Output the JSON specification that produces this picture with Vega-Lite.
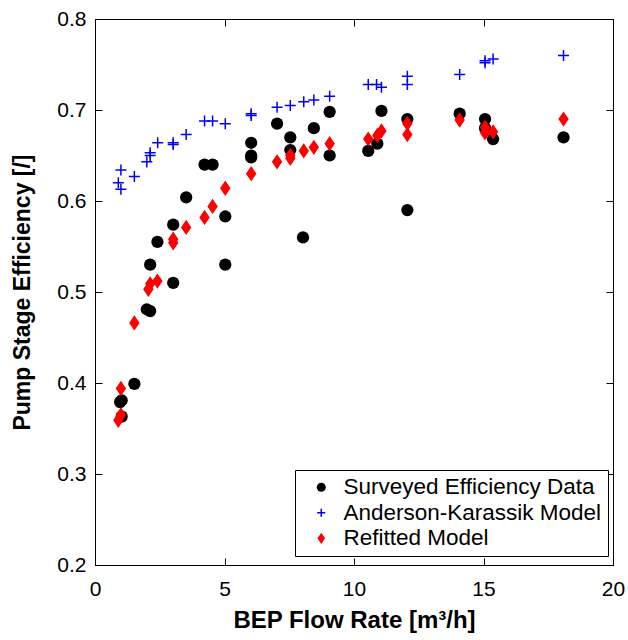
{
  "$schema": "https://vega.github.io/schema/vega-lite/v6.json",
  "autosize": "none",
  "width": 518,
  "height": 546,
  "padding": {"left": 95, "top": 19, "right": 15, "bottom": 75},
  "background": "white",
  "config": {
    "font": "Liberation Sans",
    "view": {"stroke": "black", "strokeWidth": 1},
    "axis": {"grid": false, "domainColor": "black", "domainWidth": 1, "tickColor": "black", "tickWidth": 1, "labelColor": "black", "titleColor": "black", "labelFont": "Liberation Sans", "titleFont": "Liberation Sans", "labelFlush": false}
  },
  "data": {"values": [
    {"series": "Surveyed Efficiency Data", "q": 0.97, "eff": 0.379},
    {"series": "Surveyed Efficiency Data", "q": 1.03, "eff": 0.381},
    {"series": "Surveyed Efficiency Data", "q": 1.03, "eff": 0.363},
    {"series": "Surveyed Efficiency Data", "q": 1.52, "eff": 0.399},
    {"series": "Surveyed Efficiency Data", "q": 2.0, "eff": 0.481},
    {"series": "Surveyed Efficiency Data", "q": 2.13, "eff": 0.479},
    {"series": "Surveyed Efficiency Data", "q": 2.13, "eff": 0.530},
    {"series": "Surveyed Efficiency Data", "q": 2.41, "eff": 0.555},
    {"series": "Surveyed Efficiency Data", "q": 3.02, "eff": 0.574},
    {"series": "Surveyed Efficiency Data", "q": 3.02, "eff": 0.510},
    {"series": "Surveyed Efficiency Data", "q": 3.52, "eff": 0.604},
    {"series": "Surveyed Efficiency Data", "q": 4.23, "eff": 0.640},
    {"series": "Surveyed Efficiency Data", "q": 4.54, "eff": 0.640},
    {"series": "Surveyed Efficiency Data", "q": 5.03, "eff": 0.583},
    {"series": "Surveyed Efficiency Data", "q": 5.03, "eff": 0.530},
    {"series": "Surveyed Efficiency Data", "q": 6.03, "eff": 0.664},
    {"series": "Surveyed Efficiency Data", "q": 6.03, "eff": 0.650},
    {"series": "Surveyed Efficiency Data", "q": 6.03, "eff": 0.648},
    {"series": "Surveyed Efficiency Data", "q": 7.03, "eff": 0.685},
    {"series": "Surveyed Efficiency Data", "q": 7.54, "eff": 0.670},
    {"series": "Surveyed Efficiency Data", "q": 7.54, "eff": 0.656},
    {"series": "Surveyed Efficiency Data", "q": 8.03, "eff": 0.560},
    {"series": "Surveyed Efficiency Data", "q": 8.45, "eff": 0.680},
    {"series": "Surveyed Efficiency Data", "q": 9.06, "eff": 0.698},
    {"series": "Surveyed Efficiency Data", "q": 9.06, "eff": 0.650},
    {"series": "Surveyed Efficiency Data", "q": 10.55, "eff": 0.655},
    {"series": "Surveyed Efficiency Data", "q": 10.9, "eff": 0.663},
    {"series": "Surveyed Efficiency Data", "q": 11.06, "eff": 0.699},
    {"series": "Surveyed Efficiency Data", "q": 12.06, "eff": 0.690},
    {"series": "Surveyed Efficiency Data", "q": 12.06, "eff": 0.590},
    {"series": "Surveyed Efficiency Data", "q": 14.08, "eff": 0.696},
    {"series": "Surveyed Efficiency Data", "q": 15.06, "eff": 0.690},
    {"series": "Surveyed Efficiency Data", "q": 15.06, "eff": 0.680},
    {"series": "Surveyed Efficiency Data", "q": 15.37, "eff": 0.668},
    {"series": "Surveyed Efficiency Data", "q": 18.09, "eff": 0.670},
    {"series": "Anderson-Karassik Model", "q": 0.9, "eff": 0.620},
    {"series": "Anderson-Karassik Model", "q": 1.0, "eff": 0.634},
    {"series": "Anderson-Karassik Model", "q": 1.0, "eff": 0.613},
    {"series": "Anderson-Karassik Model", "q": 1.52, "eff": 0.627},
    {"series": "Anderson-Karassik Model", "q": 2.0, "eff": 0.643},
    {"series": "Anderson-Karassik Model", "q": 2.13, "eff": 0.650},
    {"series": "Anderson-Karassik Model", "q": 2.13, "eff": 0.653},
    {"series": "Anderson-Karassik Model", "q": 2.42, "eff": 0.664},
    {"series": "Anderson-Karassik Model", "q": 3.02, "eff": 0.664},
    {"series": "Anderson-Karassik Model", "q": 3.02, "eff": 0.662},
    {"series": "Anderson-Karassik Model", "q": 3.52, "eff": 0.673},
    {"series": "Anderson-Karassik Model", "q": 4.23, "eff": 0.688},
    {"series": "Anderson-Karassik Model", "q": 4.54, "eff": 0.688},
    {"series": "Anderson-Karassik Model", "q": 5.03, "eff": 0.685},
    {"series": "Anderson-Karassik Model", "q": 6.03, "eff": 0.696},
    {"series": "Anderson-Karassik Model", "q": 6.03, "eff": 0.694},
    {"series": "Anderson-Karassik Model", "q": 7.03, "eff": 0.703},
    {"series": "Anderson-Karassik Model", "q": 7.54, "eff": 0.705},
    {"series": "Anderson-Karassik Model", "q": 8.06, "eff": 0.709},
    {"series": "Anderson-Karassik Model", "q": 8.45, "eff": 0.711},
    {"series": "Anderson-Karassik Model", "q": 9.06, "eff": 0.715},
    {"series": "Anderson-Karassik Model", "q": 10.55, "eff": 0.728},
    {"series": "Anderson-Karassik Model", "q": 10.87, "eff": 0.728},
    {"series": "Anderson-Karassik Model", "q": 11.06, "eff": 0.725},
    {"series": "Anderson-Karassik Model", "q": 12.06, "eff": 0.737},
    {"series": "Anderson-Karassik Model", "q": 12.06, "eff": 0.728},
    {"series": "Anderson-Karassik Model", "q": 14.08, "eff": 0.739},
    {"series": "Anderson-Karassik Model", "q": 15.06, "eff": 0.754},
    {"series": "Anderson-Karassik Model", "q": 15.06, "eff": 0.752},
    {"series": "Anderson-Karassik Model", "q": 15.37, "eff": 0.756},
    {"series": "Anderson-Karassik Model", "q": 18.09, "eff": 0.760},
    {"series": "Refitted Model", "q": 0.9, "eff": 0.359},
    {"series": "Refitted Model", "q": 1.0, "eff": 0.365},
    {"series": "Refitted Model", "q": 1.0, "eff": 0.394},
    {"series": "Refitted Model", "q": 1.52, "eff": 0.466},
    {"series": "Refitted Model", "q": 2.06, "eff": 0.503},
    {"series": "Refitted Model", "q": 2.13, "eff": 0.509},
    {"series": "Refitted Model", "q": 2.41, "eff": 0.512},
    {"series": "Refitted Model", "q": 3.02, "eff": 0.558},
    {"series": "Refitted Model", "q": 3.02, "eff": 0.554},
    {"series": "Refitted Model", "q": 3.52, "eff": 0.571},
    {"series": "Refitted Model", "q": 4.23, "eff": 0.582},
    {"series": "Refitted Model", "q": 4.54, "eff": 0.594},
    {"series": "Refitted Model", "q": 5.03, "eff": 0.614},
    {"series": "Refitted Model", "q": 6.03, "eff": 0.630},
    {"series": "Refitted Model", "q": 7.03, "eff": 0.643},
    {"series": "Refitted Model", "q": 7.54, "eff": 0.650},
    {"series": "Refitted Model", "q": 7.54, "eff": 0.647},
    {"series": "Refitted Model", "q": 8.06, "eff": 0.655},
    {"series": "Refitted Model", "q": 8.45, "eff": 0.659},
    {"series": "Refitted Model", "q": 9.06, "eff": 0.663},
    {"series": "Refitted Model", "q": 10.55, "eff": 0.668},
    {"series": "Refitted Model", "q": 10.9, "eff": 0.672},
    {"series": "Refitted Model", "q": 11.06, "eff": 0.677},
    {"series": "Refitted Model", "q": 12.06, "eff": 0.685},
    {"series": "Refitted Model", "q": 12.06, "eff": 0.673},
    {"series": "Refitted Model", "q": 14.08, "eff": 0.689},
    {"series": "Refitted Model", "q": 15.06, "eff": 0.681},
    {"series": "Refitted Model", "q": 15.06, "eff": 0.675},
    {"series": "Refitted Model", "q": 15.37, "eff": 0.676},
    {"series": "Refitted Model", "q": 18.09, "eff": 0.690}
  ]},
  "layer": [
    {
      "mark": {"type": "point", "size": 150, "strokeWidth": 1.5, "opacity": 1},
      "encoding": {
        "x": {"field": "q", "type": "quantitative", "scale": {"domain": [0, 20], "nice": false, "zero": false},
          "axis": {"orient": "bottom", "values": [0, 5, 10, 15, 20], "format": "d", "tickSize": -7, "labelPadding": 20, "labelFontSize": 21, "title": "BEP Flow Rate [m³/h]", "titleFontSize": 24, "titleFontWeight": "bold", "titlePadding": 9}},
        "y": {"field": "eff", "type": "quantitative", "scale": {"domain": [0.2, 0.8], "nice": false, "zero": false},
          "axis": {"orient": "left", "values": [0.2, 0.3, 0.4, 0.5, 0.6, 0.7, 0.8], "format": ".1f", "tickSize": -7, "labelPadding": 16, "labelFontSize": 21, "title": "Pump Stage Efficiency [/]", "titleFontSize": 23, "titleFontWeight": "bold", "titlePadding": 22}},
        "shape": {"field": "series", "type": "nominal", "title": null,
          "scale": {"domain": ["Surveyed Efficiency Data", "Anderson-Karassik Model", "Refitted Model"], "range": ["circle", "M-0.9,0L0.9,0M0,-0.9L0,0.9", "M0,-1.25L0.85,0L0,1.25L-0.85,0Z"]},
          "legend": {"orient": "none", "legendX": 200, "legendY": 451, "strokeColor": "black", "fillColor": "white", "padding": 6, "labelFontSize": 22.5, "labelFont": "Liberation Sans", "labelColor": "black", "labelLimit": 0, "symbolSize": 81, "symbolOffset": 9, "labelOffset": 11, "rowPadding": 2.5, "symbolStrokeWidth": 1.5}},
        "fill": {"field": "series", "type": "nominal", "title": null,
          "scale": {"domain": ["Surveyed Efficiency Data", "Anderson-Karassik Model", "Refitted Model"], "range": ["#000000", "transparent", "#ff0000"]}},
        "stroke": {"field": "series", "type": "nominal", "title": null,
          "scale": {"domain": ["Surveyed Efficiency Data", "Anderson-Karassik Model", "Refitted Model"], "range": ["transparent", "#0000ff", "transparent"]}}
      }
    },
    {
      "mark": {"type": "point", "opacity": 0},
      "encoding": {
        "x": {"field": "q", "type": "quantitative", "scale": {"domain": [0, 20], "nice": false, "zero": false},
          "axis": {"orient": "top", "values": [0, 5, 10, 15, 20], "tickSize": -7, "labels": false, "title": null}},
        "y": {"field": "eff", "type": "quantitative", "scale": {"domain": [0.2, 0.8], "nice": false, "zero": false},
          "axis": {"orient": "right", "values": [0.2, 0.3, 0.4, 0.5, 0.6, 0.7, 0.8], "tickSize": -7, "labels": false, "title": null}}
      }
    }
  ],
  "resolve": {"axis": {"x": "independent", "y": "independent"}}
}
